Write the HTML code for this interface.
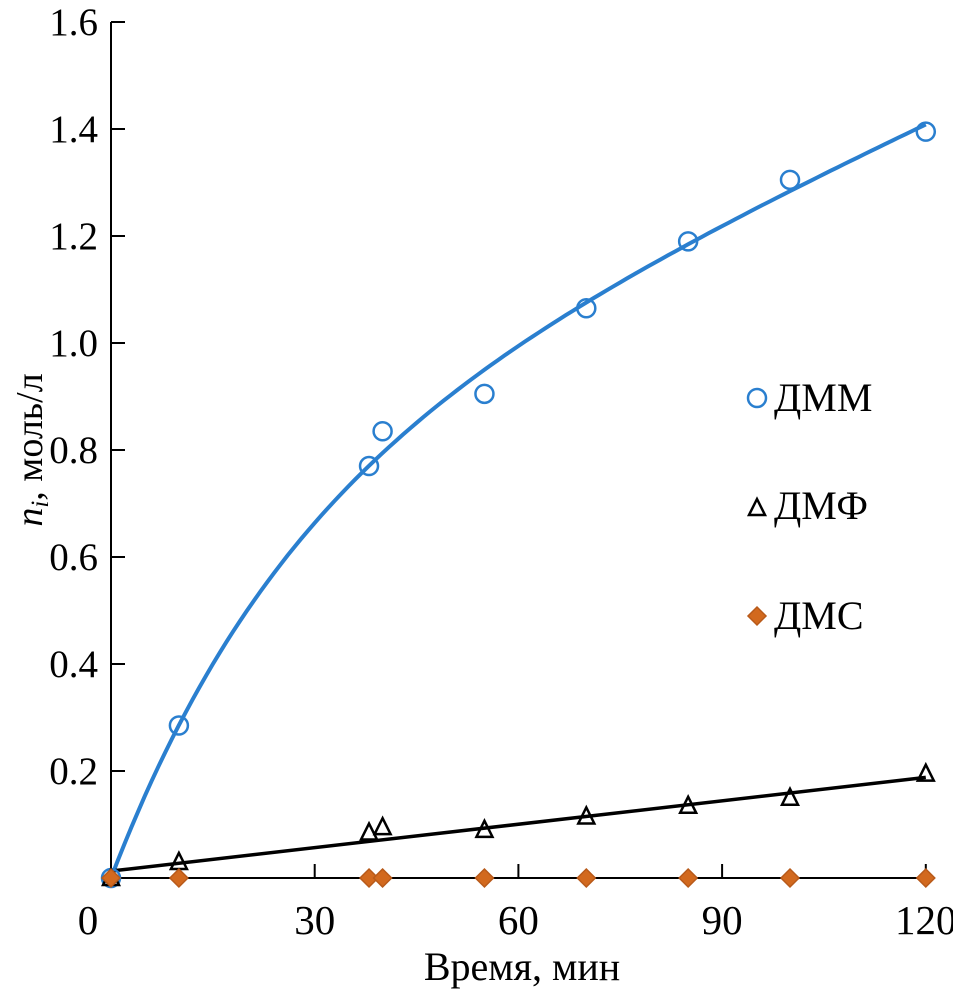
<!DOCTYPE html>
<html><head><meta charset="utf-8"><style>
body{margin:0;background:#fff}
svg text{font-family:"Liberation Serif",serif;fill:#000}
</style></head><body>
<svg width="953" height="991" xmlns="http://www.w3.org/2000/svg">
<g id="axes"></g><g id="marks"></g>
<g>
 <circle cx="757" cy="398" r="9" fill="none" stroke="#2a7fcf" stroke-width="2.5"/>
 <text x="774" y="411" font-size="40">ДММ</text>
 <path d="M757,499 L765,515 L749,515 Z" fill="none" stroke="#000" stroke-width="2.5"/>
 <text x="774" y="519" font-size="40">ДМФ</text>
 <path d="M757,607 L766,616 L757,625 L748,616 Z" fill="#d2691e" stroke="#b85a1a" stroke-width="1.5"/>
 <text x="774" y="629" font-size="40">ДМС</text>
</g>
<text x="522" y="980" font-size="40" text-anchor="middle">Время, мин</text>
<text transform="translate(42,450) rotate(-90)" font-size="38" text-anchor="middle"><tspan font-style="italic">n</tspan><tspan font-style="italic" font-size="25" dy="6">i</tspan><tspan dy="-6">, моль/л</tspan></text>
</svg>
<script>
const xTicks=[0,30,60,90,120];
const yTicks=[0.2,0.4,0.6,0.8,1.0,1.2,1.4,1.6];
const times=[0,10,38,40,55,70,85,100,120];
const dmm=[0,0.285,0.77,0.835,0.905,1.065,1.19,1.305,1.395];
const dmf=[0,0.03,0.085,0.095,0.09,0.115,0.135,0.15,0.195];
const dms=[0,0,0,0,0,0,0,0,0];
const dmfLine=[0.013,0.188];
const dmmFit=[0.72,0.038,0.0058];
const X=t=>111+t*6.79, Y=v=>878-v*535;
const NS="http://www.w3.org/2000/svg";
const ax=document.getElementById('axes'), mk=document.getElementById('marks');
function el(p,tag,a){const e=document.createElementNS(NS,tag);for(const k in a)e.setAttribute(k,a[k]);p.appendChild(e);return e;}
let l=el(ax,'line',{x1:X(0),y1:Y(0),x2:X(0),y2:Y(1.6),stroke:'#000','stroke-width':2});


l=el(ax,'line',{x1:X(0),y1:Y(0),x2:X(120),y2:Y(0),stroke:'#000','stroke-width':2});


xTicks.forEach(t=>{
 if(t>0){const tk=el(ax,'line',{x1:X(t),y1:Y(0),x2:X(t),y2:Y(0)-14,stroke:'#000','stroke-width':2});
 
 }
 const tx=el(ax,'text',{x:t===0?88:X(t),y:934,'font-size':41,'text-anchor':'middle'});tx.textContent=t;
 
 
});
yTicks.forEach(v=>{
 const tk=el(ax,'line',{x1:X(0),y1:Y(v),x2:X(0)+14,y2:Y(v),stroke:'#000','stroke-width':2});
 
 
 const tx=el(ax,'text',{x:98,y:Y(v)+13,'font-size':39,'text-anchor':'end'});tx.textContent=v.toFixed(1);
 
 
});
let d='';for(let t=0;t<=120;t+=1){const v=dmmFit[0]*(1-Math.exp(-dmmFit[1]*t))+dmmFit[2]*t;d+=(t?'L':'M')+X(t).toFixed(1)+','+Y(v).toFixed(1);}
l=el(mk,'path',{d:d,fill:'none',stroke:'#2a7fcf','stroke-width':4});


l=el(mk,'line',{x1:X(0),y1:Y(dmfLine[0]),x2:X(120),y2:Y(dmfLine[1]),stroke:'#000','stroke-width':3.5});


times.forEach((t,i)=>{
 const c=el(mk,'circle',{cx:X(t),cy:Y(dmm[i]),r:9,fill:'none',stroke:'#2a7fcf','stroke-width':2.5});
 
 
 const x=X(t),y=Y(dmf[i]);
 const p=el(mk,'path',{d:`M${x},${y-9} L${x+8},${y+7} L${x-8},${y+7} Z`,fill:'none',stroke:'#000','stroke-width':2.5});
 
 
 const yy=Y(dms[i]);
 const q=el(mk,'path',{d:`M${x},${yy-9} L${x+9},${yy} L${x},${yy+9} L${x-9},${yy} Z`,fill:'#d2691e',stroke:'#b85a1a','stroke-width':1.5});
 
 
});
</script>
</body></html>
